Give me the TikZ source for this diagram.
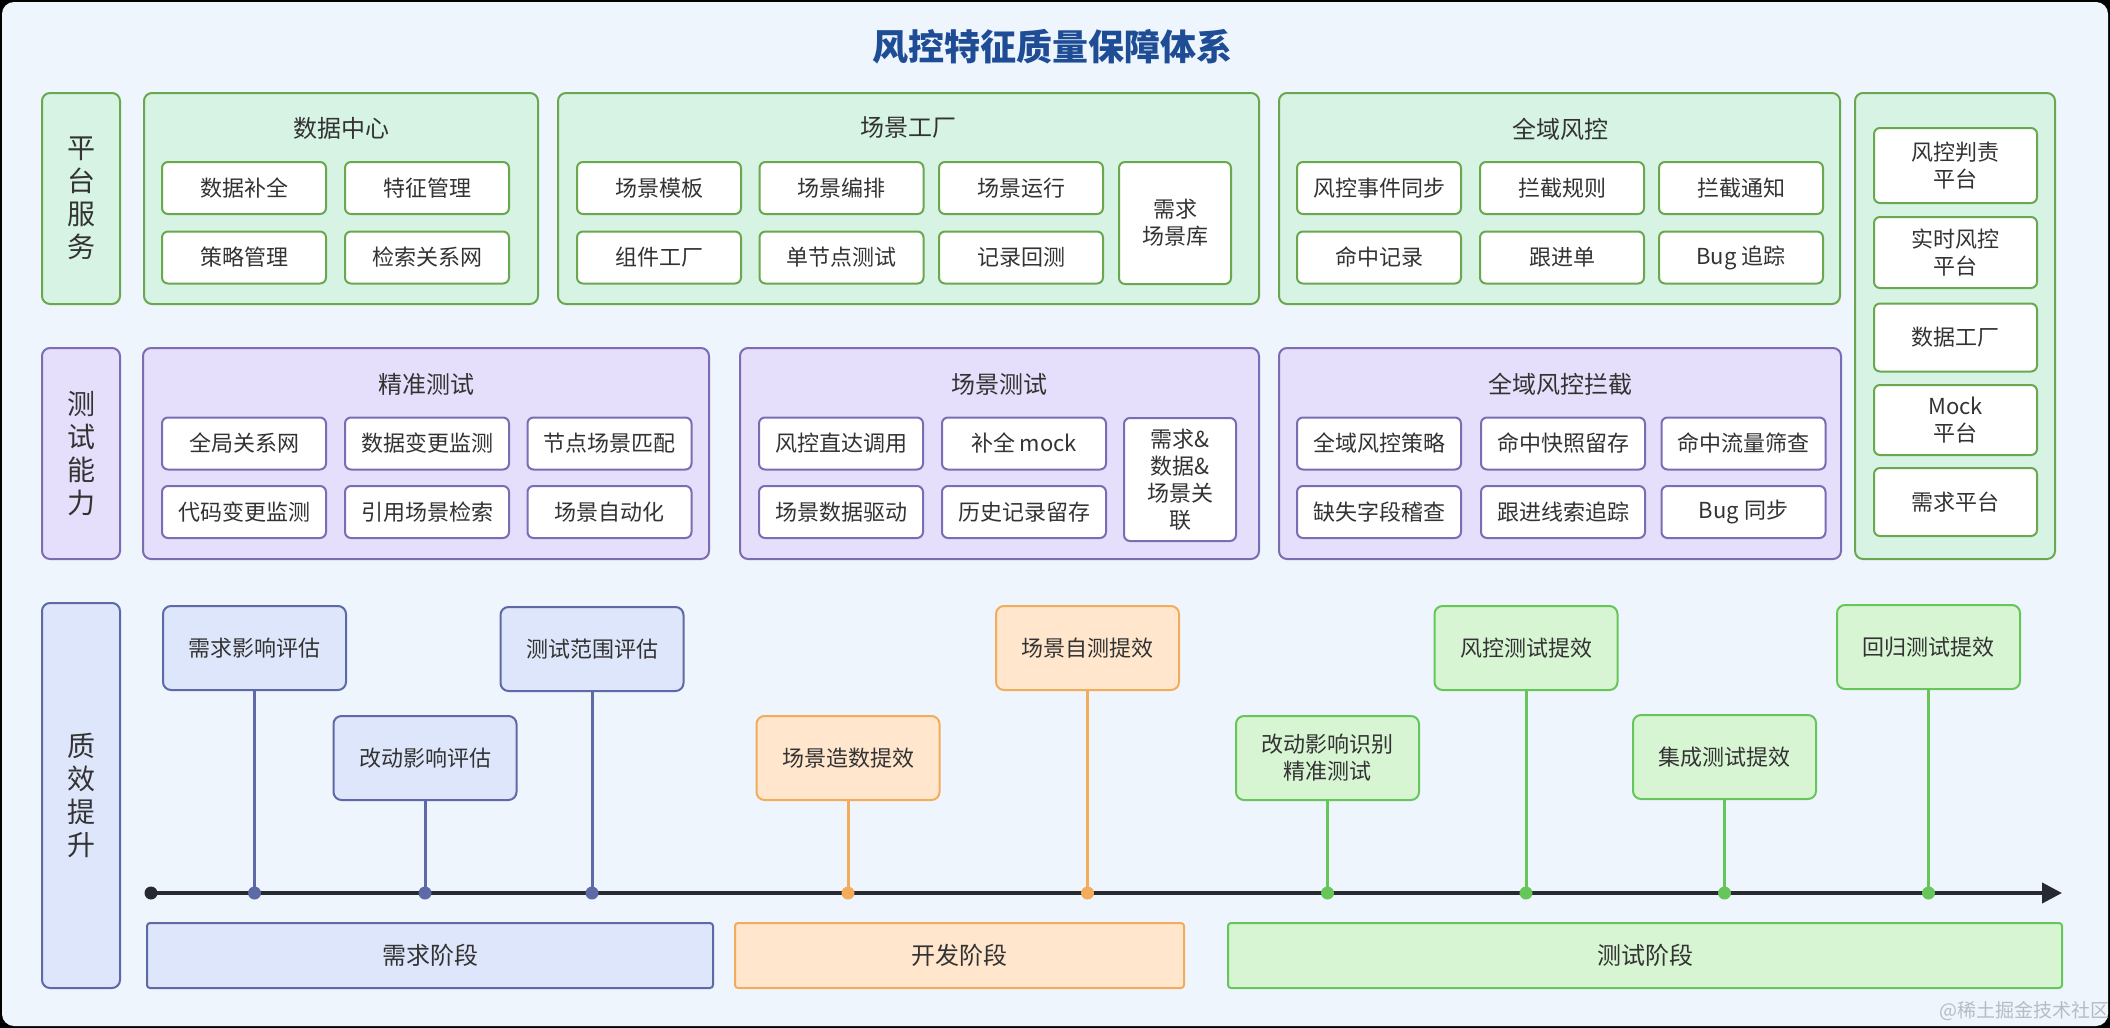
\documentclass[tikz,border=0pt]{standalone}
\usepackage{fontspec}
\setmainfont{Noto Sans CJK SC}
\usetikzlibrary{arrows.meta}
\definecolor{bg}{HTML}{EEF5FD}
\definecolor{txt}{HTML}{333333}
\definecolor{ttl}{HTML}{1E4D95}
\definecolor{gF}{HTML}{D7F3E4}
\definecolor{gD}{HTML}{6AA84F}
\definecolor{pF}{HTML}{E6DFFB}
\definecolor{pD}{HTML}{7B6DB4}
\definecolor{bF}{HTML}{DDE6FA}
\definecolor{bD}{HTML}{5D6AA7}
\definecolor{oF}{HTML}{FFE6CC}
\definecolor{oD}{HTML}{F2AC5C}
\definecolor{mF}{HTML}{D7F5D3}
\definecolor{mD}{HTML}{66C65A}
\definecolor{tlc}{HTML}{262A30}
\definecolor{wm}{HTML}{B4BCC6}
\tikzset{
 grp/.style={draw, rounded corners=8pt, line width=2pt, inner sep=0pt},
 ggrp/.style={grp, draw=gD, fill=gF},
 pgrp/.style={grp, draw=pD, fill=pF},
 item/.style={draw, fill=white, rounded corners=6pt, line width=2pt, font=\fontsize{22}{27}\selectfont, text=txt, align=center, inner sep=0pt},
 gitem/.style={item, draw=gD, minimum width=164pt, minimum height=52pt},
 pitem/.style={item, draw=pD, minimum width=164pt, minimum height=52pt},
 gtitle/.style={font=\fontsize{24}{29}\selectfont, text=txt},
 side/.style={draw, rounded corners=8pt, line width=2pt, font=\fontsize{28}{33}\selectfont, text=txt, align=center, inner sep=0pt, minimum width=78pt},
 ms/.style={draw, rounded corners=8pt, line width=2pt, font=\fontsize{22}{27}\selectfont, text=txt, align=center, inner sep=0pt, minimum width=183pt, minimum height=84pt},
 bms/.style={ms, draw=bD, fill=bF},
 oms/.style={ms, draw=oD, fill=oF},
 gms/.style={ms, draw=mD, fill=mF},
 phase/.style={draw, rounded corners=3pt, line width=2pt, font=\fontsize{24}{29}\selectfont, text=txt, inner sep=0pt, minimum height=65pt},
 stem/.style={line width=3pt},
}
\begin{document}
\begin{tikzpicture}[x=1pt,y=-1pt]
\useasboundingbox (0,0) rectangle (2110,1028);
\fill[black] (0,0) rectangle (2110,1028);
\fill[bg, rounded corners=12pt] (2,2) rectangle (2108,1026);

\node[font=\fontsize{36}{40}\selectfont\bfseries, text=ttl] (title) at (1052,47) {风控特征质量保障体系};

% ---------- Row 1 ----------
\node[side, draw=gD, fill=gF, minimum height=211pt] (side1) at (81,198.5) {平\\台\\服\\务};

\node[ggrp, minimum width=394pt, minimum height=211pt] (g1) at (341,198.5) {};
\node[gtitle] (g1t) at (341,128) {数据中心};
\node[gitem] (a1) at (244,188) {数据补全};
\node[gitem] (a2) at (427,188) {特征管理};
\node[gitem] (a3) at (244,257.5) {策略管理};
\node[gitem] (a4) at (427,257.5) {检索关系网};

\node[ggrp, minimum width=701pt, minimum height=211pt] (g2) at (908.5,198.5) {};
\node[gtitle] (g2t) at (908.5,128) {场景工厂};
\node[gitem] (b1) at (659,188) {场景模板};
\node[gitem] (b2) at (841.5,188) {场景编排};
\node[gitem] (b3) at (1021,188) {场景运行};
\node[gitem] (b4) at (659,257.5) {组件工厂};
\node[gitem] (b5) at (841.5,257.5) {单节点测试};
\node[gitem] (b6) at (1021,257.5) {记录回测};
\node[item, draw=gD, minimum width=112pt, minimum height=122pt] (b7) at (1175,223) {需求\\场景库};

\node[ggrp, minimum width=561pt, minimum height=211pt] (g3) at (1559.5,198.5) {};
\node[gtitle] (g3t) at (1560,129) {全域风控};
\node[gitem] (c1) at (1379,188) {风控事件同步};
\node[gitem] (c2) at (1562,188) {拦截规则};
\node[gitem] (c3) at (1741,188) {拦截通知};
\node[gitem] (c4) at (1379,257.5) {命中记录};
\node[gitem] (c5) at (1562,257.5) {跟进单};
\node[gitem] (c6) at (1741,257.5) {Bug 追踪};

\node[ggrp, minimum width=200pt, minimum height=466pt] (rc) at (1955,326) {};
\node[item, draw=gD, minimum width=163pt, minimum height=75pt] (r1) at (1955.5,165.5) {风控判责\\平台};
\node[item, draw=gD, minimum width=163pt, minimum height=71pt] (r2) at (1955.5,252.5) {实时风控\\平台};
\node[item, draw=gD, minimum width=163pt, minimum height=68pt] (r3) at (1955.5,337.5) {数据工厂};
\node[item, draw=gD, minimum width=163pt, minimum height=70pt] (r4) at (1955.5,420) {Mock\\平台};
\node[item, draw=gD, minimum width=163pt, minimum height=68pt] (r5) at (1955.5,502) {需求平台};

% ---------- Row 2 ----------
\node[side, draw=pD, fill=pF, minimum height=211pt] (side2) at (81,453.5) {测\\试\\能\\力};

\node[pgrp, minimum width=566pt, minimum height=211pt] (g4) at (426,453.5) {};
\node[gtitle] (g4t) at (426,384) {精准测试};
\node[pitem] (d1) at (244,443.5) {全局关系网};
\node[pitem] (d2) at (427,443.5) {数据变更监测};
\node[pitem] (d3) at (609.5,443.5) {节点场景匹配};
\node[pitem] (d4) at (244,512) {代码变更监测};
\node[pitem] (d5) at (427,512) {引用场景检索};
\node[pitem] (d6) at (609.5,512) {场景自动化};

\node[pgrp, minimum width=519pt, minimum height=211pt] (g5) at (999.5,453.5) {};
\node[gtitle] (g5t) at (999.5,384) {场景测试};
\node[pitem] (e1) at (841,443.5) {风控直达调用};
\node[pitem] (e2) at (1024,443.5) {补全 mock};
\node[pitem] (e3) at (841,512) {场景数据驱动};
\node[pitem] (e4) at (1024,512) {历史记录留存};
\node[item, draw=pD, minimum width=112pt, minimum height=123pt] (e5) at (1180,479.5) {需求\&\\数据\&\\场景关\\联};

\node[pgrp, minimum width=562pt, minimum height=211pt] (g6) at (1560,453.5) {};
\node[gtitle] (g6t) at (1560,384) {全域风控拦截};
\node[pitem] (f1) at (1379,443.5) {全域风控策略};
\node[pitem] (f2) at (1563,443.5) {命中快照留存};
\node[pitem] (f3) at (1743.5,443.5) {命中流量筛查};
\node[pitem] (f4) at (1379,512) {缺失字段稽查};
\node[pitem] (f5) at (1563,512) {跟进线索追踪};
\node[pitem] (f6) at (1743.5,512) {Bug 同步};

% ---------- Row 3 ----------
\node[side, draw=bD, fill=bF, minimum height=385pt] (side3) at (81,795.5) {质\\效\\提\\升};

\node[circle, fill=tlc, minimum size=13pt, inner sep=0pt] (tstart) at (151,893) {};
\coordinate (tend) at (2062,893);
\draw[tlc, line width=4pt, -{Triangle[length=20pt,width=20pt]}] (tstart.center) -- (tend);

\node[bms] (m1) at (254.5,648) {需求影响评估};
\node[bms] (m2) at (425,758) {改动影响评估};
\node[bms] (m3) at (592,649) {测试范围评估};
\node[oms] (m4) at (848,758) {场景造数提效};
\node[oms] (m5) at (1087.5,648) {场景自测提效};
\node[gms] (m6) at (1327.5,758) {改动影响识别\\精准测试};
\node[gms] (m7) at (1526,648) {风控测试提效};
\node[gms] (m8) at (1724.5,757) {集成测试提效};
\node[gms] (m9) at (1928.5,647) {回归测试提效};

\foreach \i/\c in {1/bD,2/bD,3/bD,4/oD,5/oD,6/mD,7/mD,8/mD,9/mD}{
  \coordinate (p\i) at (m\i.south |- tstart);
  \draw[stem, \c] (m\i.south) -- (p\i);
  \fill[\c] (p\i) circle (6.5pt);
}

\node[phase, draw=bD, fill=bF, minimum width=566pt] (ph1) at (430,955.5) {需求阶段};
\node[phase, draw=oD, fill=oF, minimum width=449pt] (ph2) at (959.5,955.5) {开发阶段};
\node[phase, draw=mD, fill=mF, minimum width=834pt] (ph3) at (1645,955.5) {测试阶段};

\node[font=\fontsize{19}{22}\selectfont, text=wm] (wmark) at (2024,1011) {@稀土掘金技术社区};
\end{tikzpicture}
\end{document}
